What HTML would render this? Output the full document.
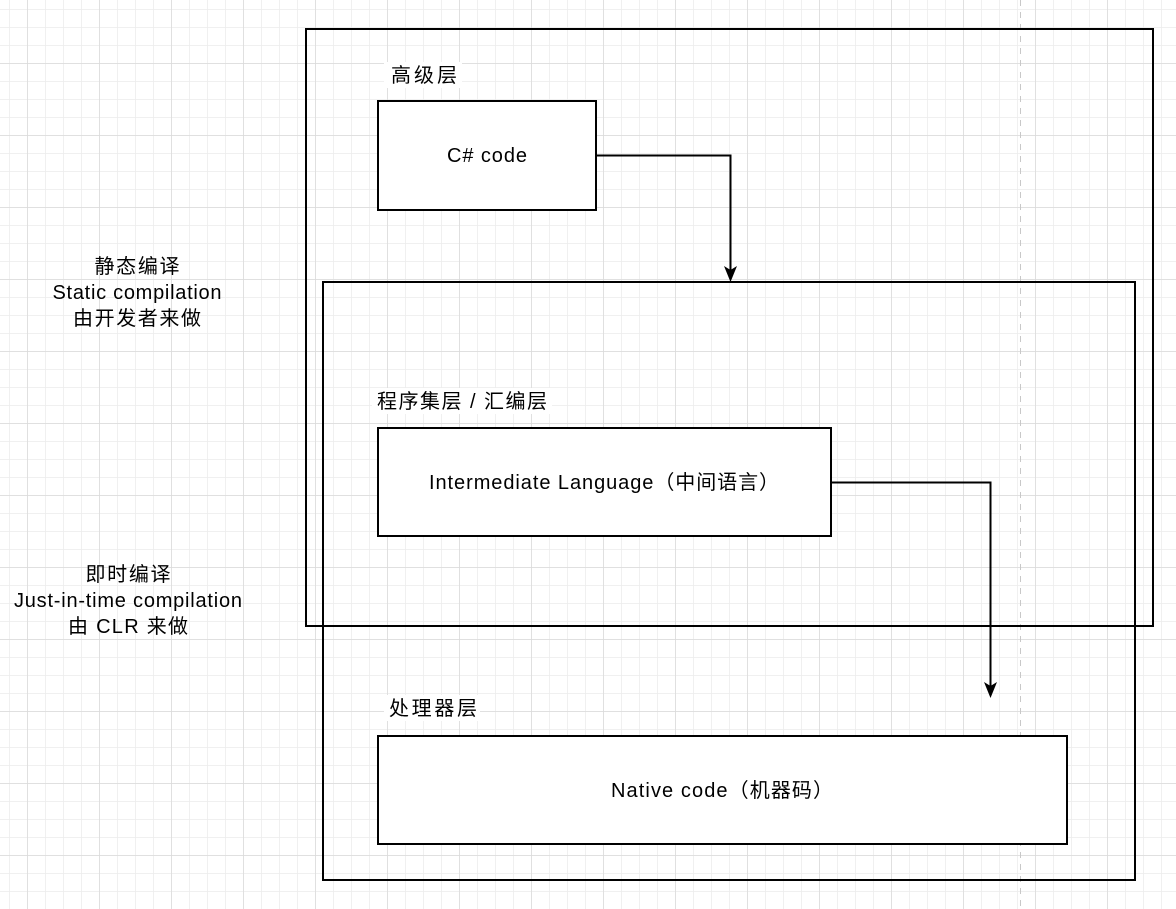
<!DOCTYPE html>
<html><head><meta charset="utf-8"><style>
html,body{margin:0;padding:0;background:#fff;}
svg{display:block;}
text{font-family:"Liberation Sans","Noto Sans CJK SC",sans-serif;font-size:20px;fill:#000;}
</style></head><body>
<svg width="1176" height="909" viewBox="0 0 1176 909" xmlns="http://www.w3.org/2000/svg">
<defs>
<pattern id="minor" x="9" y="9" width="18" height="18" patternUnits="userSpaceOnUse">
<path d="M0 0H18M0 0V18" stroke="#ececec" stroke-width="1.5" fill="none"/>
</pattern>
<pattern id="major" x="27" y="-9" width="72" height="72" patternUnits="userSpaceOnUse">
<path d="M0 0H72M0 0V72" stroke="#dadada" stroke-width="1.5" fill="none"/>
</pattern>
</defs>
<rect width="1176" height="909" fill="#fff"/>
<rect width="1176" height="909" fill="url(#minor)"/>
<rect width="1176" height="909" fill="url(#major)"/>
<line x1="1020.5" y1="0" x2="1020.5" y2="909" stroke="#c8c8c8" stroke-dasharray="6 6"/>

<rect x="306" y="29" width="847" height="597" fill="none" stroke="#000" stroke-width="2"/>
<rect x="323" y="282" width="812" height="598" fill="none" stroke="#000" stroke-width="2"/>

<rect x="378" y="101" width="218" height="109" fill="#fff" stroke="#000" stroke-width="2"/>
<rect x="378" y="428" width="453" height="108" fill="#fff" stroke="#000" stroke-width="2"/>
<rect x="378" y="736" width="689" height="108" fill="#fff" stroke="#000" stroke-width="2"/>

<path d="M596 155.5H730.5V272" fill="none" stroke="#000" stroke-width="2"/>
<path d="M724 266L730.5 282L737 266L730.5 270Z" fill="#000"/>
<path d="M831 482.5H990.5V688" fill="none" stroke="#000" stroke-width="2"/>
<path d="M984 682L990.5 698L997 682L990.5 686Z" fill="#000"/>

<rect x="384" y="62" width="78" height="26" fill="#fff"/>
<text x="391" y="82" textLength="66">高级层</text>
<rect x="372" y="388" width="180" height="26" fill="#fff"/>
<text x="377" y="408" textLength="170">程序集层 / 汇编层</text>
<rect x="384" y="695" width="96" height="26" fill="#fff"/>
<text x="389" y="715" textLength="88">处理器层</text>

<text x="487" y="162" text-anchor="middle" textLength="80">C# code</text>
<text x="604" y="489" text-anchor="middle" textLength="350">Intermediate Language（中间语言）</text>
<text x="722" y="797" text-anchor="middle" textLength="222">Native code（机器码）</text>

<text x="137" y="273" text-anchor="middle" textLength="85">静态编译</text>
<text x="137" y="299" text-anchor="middle" textLength="169">Static compilation</text>
<text x="137" y="325" text-anchor="middle" textLength="128">由开发者来做</text>
<text x="128" y="581" text-anchor="middle" textLength="85">即时编译</text>
<text x="128" y="607" text-anchor="middle" textLength="228">Just-in-time compilation</text>
<text x="128" y="633" text-anchor="middle" textLength="120">由 CLR 来做</text>
</svg>
</body></html>
